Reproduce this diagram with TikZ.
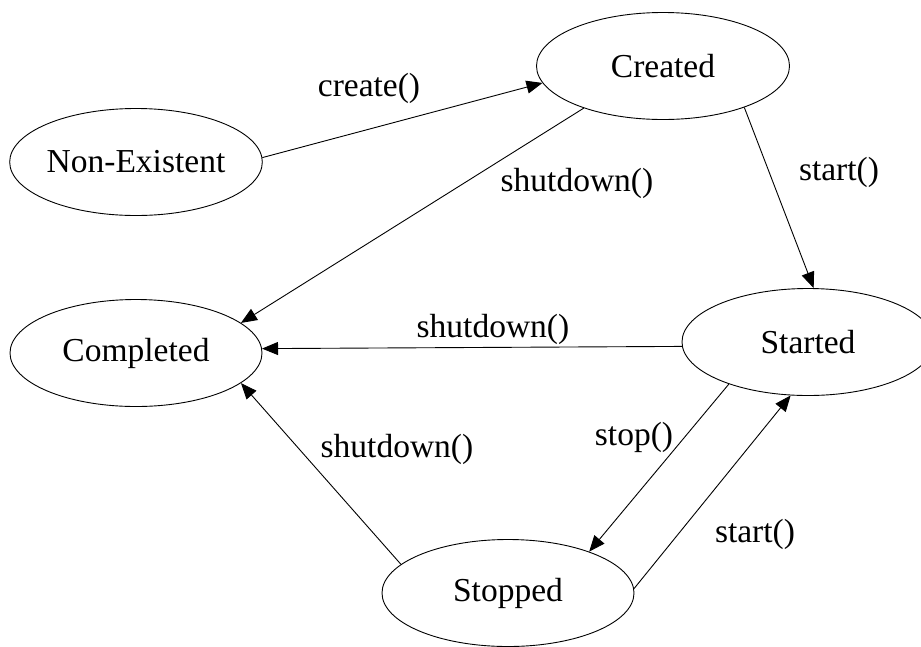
\documentclass[tikz,border=0pt]{standalone}
\usepackage{fontspec}
\setmainfont{Liberation Serif}
\usetikzlibrary{shapes.geometric,arrows.meta}
\tikzset{
  state/.style={draw, ellipse, inner sep=0pt, minimum width=252pt, minimum height=107pt, line width=0.9pt},
  trans/.style={line width=0.9pt, -{Triangle[length=16pt,width=13pt]}},
  lbl/.style={inner sep=0pt}
}
\begin{document}
\begin{tikzpicture}[x=1pt,y=-1pt,font=\fontsize{33.5}{38}\selectfont]
\clip (0,0) rectangle (921,646);
\node[state] (ne) at (136,162) {Non-Existent};
\node[state, minimum width=253pt] (cr) at (663,66) {Created};
\node[state] (co) at (136,353) {Completed};
\node[state] (st) at (808,342) {Started};
\node[state] (sp) at (508,593) {Stopped};

\draw[trans] (ne.2.7) -- (cr.188.2);
\draw[trans] (cr.208.3) -- (co.16.2);
\draw[trans] (cr.-27.7) -- (st.84.8);
\draw[trans] (st.182.7) -- (co.2.3);
\draw[trans] (st.208.3) -- (sp.27.7);
\draw[trans] (sp.2.3) -- (st.252.8);
\draw[trans] (sp.165.3) -- (co.-16.7);

\node[lbl] (l1) at (369,88) {create()};
\node[lbl] (l2) at (577,183) {shutdown()};
\node[lbl] (l3) at (839,172) {start()};
\node[lbl] (l4) at (493,329) {shutdown()};
\node[lbl] (l5) at (634,437) {stop()};
\node[lbl] (l6) at (755,534) {start()};
\node[lbl] (l7) at (397,449) {shutdown()};
\end{tikzpicture}
\end{document}
